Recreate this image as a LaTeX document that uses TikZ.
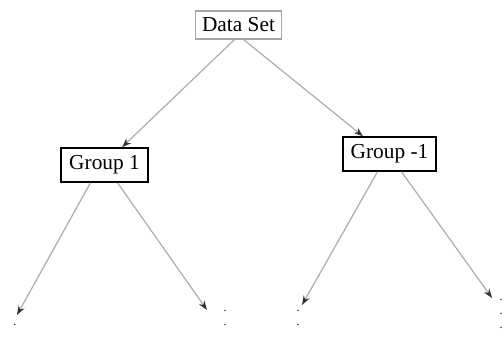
\documentclass[tikz,border=0pt]{standalone}
\usepackage{fontspec}
\setmainfont{Liberation Serif}
\usetikzlibrary{arrows.meta, calc}

\begin{document}
\begin{tikzpicture}[
    x=0.75pt, y=-0.75pt,
    font=\fontsize{16}{19}\selectfont,
    % Styles
    rootbox/.style={rectangle, draw=gray!70, line width=0.8pt, minimum width=65pt, minimum height=21pt, inner sep=2pt},
    groupbox/.style={rectangle, draw=black, line width=1.1pt, minimum height=25.5pt, inner sep=2pt},
    branch/.style={draw=gray!65, line width=0.9pt, -{Stealth[length=7pt, width=5pt, color=black!80]}},
    leaftext/.style={font=\fontsize{9}{10.5}\selectfont, inner sep=0pt, align=center}
]
\useasboundingbox (0,0) rectangle (502,338);

% --- Root ---
\node[rootbox] (dataset) at (238.5,25) {Data Set};

% --- Groups ---
\node[groupbox, minimum width=65pt] (group1) at (104.5,165) {Group 1};
\node[groupbox, minimum width=70pt] (groupm1) at (389.5,154) {Group -1};

% --- Leaf ends ---
\coordinate (leafa) at (17,315);
\coordinate (leafb) at (207,310);
\coordinate (leafc) at (302,305);
\coordinate (leafd) at (492,298);

\node[leaftext, anchor=north] (texta) at (15,324) {.};
\node[leaftext, anchor=north] (textb) at (225,310) {.\\.};
\node[leaftext, anchor=north] (textc) at (298,310) {.\\.};
\node[leaftext, anchor=north] (textd) at (501,299) {.\\.\\.};

% --- Connections ---
\draw[branch] ($(dataset.south)+(-4,0)$) -- (group1.north -| 122,0);
\draw[branch] ($(dataset.south)+(5,0)$) -- (groupm1.north -| 363,0);
\draw[branch] ($(group1.south)+(-14,0)$) -- (leafa);
\draw[branch] ($(group1.south)+(13,0)$) -- (leafb);
\draw[branch] ($(groupm1.south)+(-12,0)$) -- (leafc);
\draw[branch] ($(groupm1.south)+(12,0)$) -- (leafd);

\end{tikzpicture}
\end{document}
